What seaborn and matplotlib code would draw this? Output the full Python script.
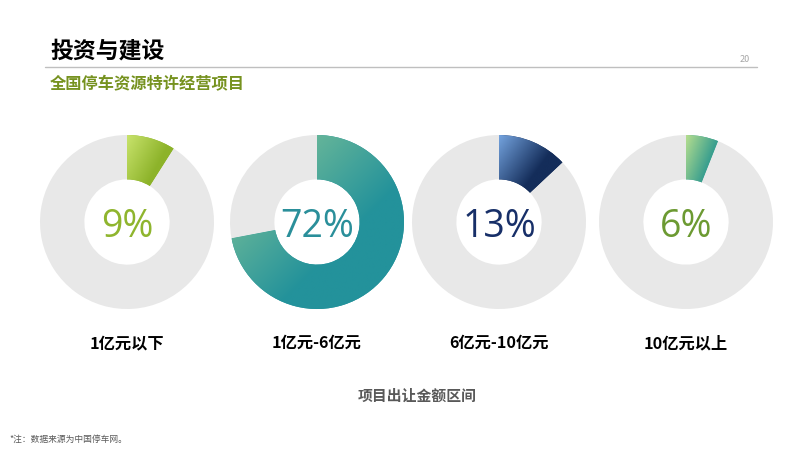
import numpy as np
import matplotlib
matplotlib.use("Agg")
import matplotlib.pyplot as plt
from matplotlib.lines import Line2D
import seaborn as sns

sns.set_theme(style="white")
plt.rcParams['font.family'] = ['Noto Sans CJK SC', 'DejaVu Sans']

# data
categories = ['1亿元以下', '1亿元-6亿元', '6亿元-10亿元', '10亿元以上']
shares = [9, 72, 13, 6]
light_colors = ['#c8e36c', '#8fcb98', '#74a3de', '#b6de8e']
dark_colors = ['#8db32a', '#23929b', '#142d5a', '#3a9f8f']
text_colors = ['#8fb52e', '#2a8f9a', '#172f68', '#6c9a32']

W, H = 800, 450
centers_x = [127, 317, 499, 686]
center_y = 222
radius = 87
pad = 3

fig = plt.figure(figsize=(8, 4.5), dpi=100)
fig.patch.set_facecolor('white')


def px(x, y):
    return x / W, 1 - y / H


for i, (cat, v) in enumerate(zip(categories, shares)):
    cx = centers_x[i]
    left, bottom = px(cx - radius - pad, center_y + radius + pad)
    ax = fig.add_axes([left, bottom, 2 * (radius + pad) / W, 2 * (radius + pad) / H])
    wedges, _ = ax.pie([v, 100 - v], startangle=90, counterclock=False,
                       colors=[dark_colors[i], '#e8e8e8'],
                       wedgeprops=dict(width=0.51, linewidth=0))
    lim = (radius + pad) / radius
    ax.set_aspect('equal')
    ax.axis('off')

    # gradient fill clipped to the value wedge
    w = wedges[0]
    verts = w.get_path().vertices
    x0, x1 = verts[:, 0].min(), verts[:, 0].max()
    y0, y1 = verts[:, 1].min(), verts[:, 1].max()
    gx, gy = np.meshgrid(np.linspace(0, 1, 200), np.linspace(1, 0, 200))
    grad = (gx + (1 - gy)) / 2
    cmap = sns.blend_palette([light_colors[i], dark_colors[i], dark_colors[i]], as_cmap=True)
    if v > 50:
        cmap = sns.blend_palette([light_colors[i], dark_colors[i]], as_cmap=True)
        grad = np.clip(grad * 1.6, 0, 1)
    im = ax.imshow(grad, extent=[x0, x1, y0, y1], origin='upper', cmap=cmap,
                   aspect='auto', zorder=3)
    im.set_clip_path(w)
    ax.set_xlim(-lim, lim)
    ax.set_ylim(-lim, lim)

    ax.text(0, -15 / radius, f'{v}%', ha='center', va='baseline', fontsize=27,
            family='Open Sans', color=text_colors[i], zorder=5)

    fig.text(*px(cx, 343), cat, ha='center', va='center', fontsize=11.7,
             weight='bold', color='black')

fig.text(*px(50, 51), '投资与建设', ha='left', va='center', fontsize=16.5,
         weight='bold', color='black')
fig.add_artist(Line2D([45 / W, 757 / W], [1 - 67 / H] * 2, color='#bfbfbf', lw=1))
fig.text(*px(745, 60), '20', ha='center', va='center', fontsize=6.5, color='#a6a6a6')
fig.text(*px(50, 84), '全国停车资源特许经营项目', ha='left', va='center',
         fontsize=11.7, weight='bold', color='#76921f')
fig.text(*px(417, 396), '项目出让金额区间', ha='center', va='center',
         fontsize=10.7, weight='bold', color='#595959')
fig.text(*px(9, 439), '*注：数据来源为中国停车网。', ha='left', va='center',
         fontsize=6.3, color='#595959')

fig.savefig('out.png', dpi=100, facecolor='white')
